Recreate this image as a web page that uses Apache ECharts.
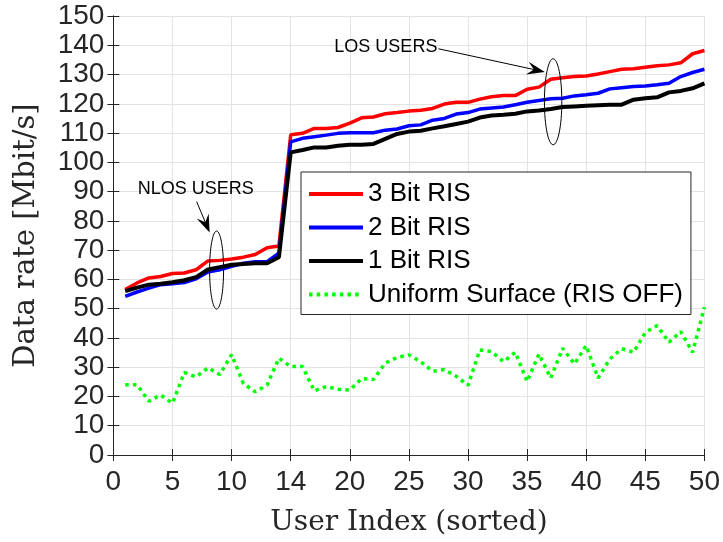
<!DOCTYPE html>
<html>
<head>
<meta charset="utf-8">
<script src="https://cdn.jsdelivr.net/npm/echarts@6/dist/echarts.min.js"></script>
<style>html,body{margin:0;padding:0;background:#fff}#c{width:723px;height:542px}</style>
</head>
<body>
<div id="c"></div>
<script>
var users = [1,2,3,4,5,6,7,8,9,10,11,12,13,14,15,16,17,18,19,20,21,22,23,24,25,26,27,28,29,30,31,32,33,34,35,36,37,38,39,40,41,42,43,44,45,46,47,48,49,50];
var bit3 = [56.5,58.8,60.5,61,62,62.2,63.3,66.3,66.5,67,67.6,68.5,70.8,71.4,
  109.4,109.9,111.6,111.6,111.9,113.4,115.2,115.5,116.6,117,117.5,117.8,118.4,119.9,120.5,120.5,121.6,122.4,
  122.8,122.8,125,125.7,128.4,128.9,129.3,129.5,130.2,131,131.8,132,132.5,133,133.3,134,137.1,138.2];
var bit2 = [54.2,55.7,57,58.2,58.5,58.9,60.2,62.5,63.3,64.5,65.5,66,66.1,69,
  107,108.2,108.75,109.3,109.9,110.1,110.1,110.1,111,111.4,112.5,112.8,114.4,115,116.5,117,118.2,118.6,
  118.9,119.7,120.5,121.1,121.7,121.9,122.7,123.1,123.6,125.1,125.5,125.9,126.1,126.5,127,129.3,130.7,131.8];
var bit1 = [56,57.2,58.2,58.5,59,59.7,60.8,63.4,64.2,65,65.3,65.5,65.5,67.6,
  103.4,104.2,105.1,105.1,105.7,106,106,106.3,108,109.7,110.5,110.8,111.6,112.3,113.1,113.9,115.3,116,
  116.25,116.6,117.4,117.7,118.2,118.9,119.1,119.3,119.5,119.7,119.7,121.4,121.9,122.2,123.9,124.4,125.3,127];
var uniform = [24,24,18.4,20.5,17.7,28.2,26.7,29.8,27.5,34.3,24.4,21.6,23.9,33.1,30.2,30.2,21.9,23.4,22.5,22.2,
  26.1,25.8,31.4,33.3,34.2,31.9,28.6,29.2,26.9,23.8,35.9,35.3,31.9,35.1,25.1,34.5,26.3,36.5,31.1,37.4,
  26.3,32.8,36.3,35.1,41.9,44.2,38.5,42.2,35.1,50.5];
var seriesNames = ['3 Bit RIS','2 Bit RIS','1 Bit RIS','Uniform Surface (RIS OFF)'];
var xTickValues = [0,5,10,15,20,25,30,35,40,45,50];
var xTickLabels = ['0','5','10','14','20','25','30','35','40','45','50'];
var annotations = [
  {text:'LOS USERS', textAt:[23.05,139.4], from:[27.5,138.8], to:[36.5,130.9], ellipse:[37.2,120.7], rx:8.7, ry:43},
  {text:'NLOS USERS', textAt:[6.96,91.0], from:[7.04,86.6], to:[8.14,76.0], ellipse:[8.73,63.2], rx:7, ry:39}
];

function pairs(ys){ return users.map(function(u,i){ return [u, ys[i]]; }); }

var chart = echarts.init(document.getElementById('c'), null, {renderer:'canvas'});
var axisColor = '#262626';
var tickFont = "'Liberation Sans',Arial,sans-serif";
var gridColor = '#e3e3e3';
var option = {
  animation:false,
  backgroundColor:'#fff',
  grid:{left:113.4, right:16, top:16, bottom:86, containLabel:false},
  legend:{
    orient:'vertical', left:301, top:172,
    data:seriesNames,
    itemWidth:54, itemHeight:14, itemGap:7.5,
    padding:[9,8,7,6],
    itemStyle:{opacity:0},
    lineStyle:{width:4},
    borderColor:axisColor, borderWidth:1, backgroundColor:'#fff',
    textStyle:{fontSize:26, fontFamily:"'Liberation Sans',Arial,sans-serif", color:'#000'}
  },
  xAxis:[{
    type:'value', min:0, max:50, interval:5,
    name:'User Index (sorted)', nameLocation:'middle', nameGap:54,
    nameTextStyle:{fontFamily:"'DejaVu Serif',serif", fontSize:28, color:axisColor},
    axisLine:{lineStyle:{color:axisColor, width:1}},
    axisTick:{inside:true, length:6, lineStyle:{color:axisColor}},
    axisLabel:{fontSize:28, fontFamily:tickFont, color:axisColor, margin:13, showMinLabel:true, showMaxLabel:true,
      formatter:function(v){ var i = xTickValues.indexOf(v); return i>=0 ? xTickLabels[i] : ''; }},
    splitLine:{show:true, lineStyle:{color:gridColor, width:1}}
  },{
    type:'value', min:0, max:50, interval:5, position:'top',
    axisLine:{show:true, lineStyle:{color:axisColor, width:1}},
    axisTick:{inside:true, length:6, lineStyle:{color:axisColor}},
    axisLabel:{show:false}, splitLine:{show:false}
  }],
  yAxis:[{
    type:'value', min:0, max:150, interval:10,
    name:'Data rate [Mbit/s]', nameLocation:'middle', nameGap:72,
    nameTextStyle:{fontFamily:"'DejaVu Serif',serif", fontSize:29, color:axisColor},
    axisLine:{show:true, lineStyle:{color:axisColor, width:1}},
    axisTick:{show:true, inside:true, length:6, lineStyle:{color:axisColor}},
    axisLabel:{fontSize:28, fontFamily:tickFont, color:axisColor, margin:9, showMinLabel:true, showMaxLabel:true, hideOverlap:false},
    splitLine:{show:true, lineStyle:{color:gridColor, width:1}}
  },{
    type:'value', min:0, max:150, interval:10, position:'right',
    axisLine:{show:true, lineStyle:{color:axisColor, width:1}},
    axisTick:{show:true, inside:true, length:6, lineStyle:{color:axisColor}},
    axisLabel:{show:false}, splitLine:{show:false}
  }],
  series:[
    {name:seriesNames[0], type:'line', data:pairs(bit3), symbol:'none', color:'#ff0000', lineStyle:{width:3.5, color:'#ff0000'}},
    {name:seriesNames[1], type:'line', data:pairs(bit2), symbol:'none', color:'#0000ff', lineStyle:{width:3.5, color:'#0000ff'}},
    {name:seriesNames[2], type:'line', data:pairs(bit1), symbol:'none', color:'#000000', lineStyle:{width:4, color:'#000000'}},
    {name:seriesNames[3], type:'line', data:pairs(uniform), symbol:'none', color:'#00ff00', lineStyle:{width:3.5, color:'#00ff00', type:[3.5,4.2]}}
  ]
};
chart.setOption(option);

function px(p){ return chart.convertToPixel({xAxisIndex:0, yAxisIndex:0}, p); }
var g = [];
annotations.forEach(function(a){
  var t = px(a.textAt), f = px(a.from), e = px(a.to), c = px(a.ellipse);
  g.push({type:'text', x:t[0], y:t[1], style:{text:a.text, fill:'#000', fontSize:18, fontFamily:"'Liberation Sans',Arial,sans-serif", align:'center', verticalAlign:'middle'}, z:100});
  var dx = e[0]-f[0], dy = e[1]-f[1], L = Math.sqrt(dx*dx+dy*dy), ux = dx/L, uy = dy/L, nx = -uy, ny = ux;
  var hl = 16, hw = 6.5;
  var base = [e[0]-ux*hl, e[1]-uy*hl];
  var notch = [e[0]-ux*hl*0.7, e[1]-uy*hl*0.7];
  g.push({type:'line', shape:{x1:f[0], y1:f[1], x2:notch[0], y2:notch[1]}, style:{stroke:'#000', lineWidth:1}, z:100});
  g.push({type:'polygon', shape:{points:[[e[0],e[1]],[base[0]+nx*hw-ux*2, base[1]+ny*hw-uy*2],[notch[0],notch[1]],[base[0]-nx*hw-ux*2, base[1]-ny*hw-uy*2]]}, style:{fill:'#000'}, z:100});
  g.push({type:'ellipse', shape:{cx:c[0], cy:c[1], rx:a.rx, ry:a.ry}, style:{fill:null, stroke:'#000', lineWidth:1}, z:100});
});
chart.setOption({graphic:g});
</script>
</body>
</html>
